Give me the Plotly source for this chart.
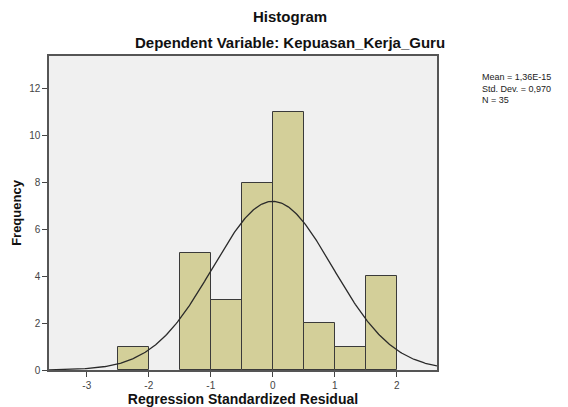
import numpy as np
import plotly.graph_objects as go

bin_starts = [-2.5, -1.5, -1.0, -0.5, 0.0, 0.5, 1.0, 1.5]
counts = [1, 5, 3, 8, 11, 2, 1, 4]
bin_width = 0.5
mean_val = 1.36e-15
std_val = 0.970
n_val = 35

x_ticks = [-3, -2, -1, 0, 1, 2]
y_ticks = [0, 2, 4, 6, 8, 10, 12]
stat_lines = ["Mean = 1,36E-15", "Std. Dev. = 0,970", f"N = {n_val}"]

centers = [s + bin_width / 2 for s in bin_starts]

xs = np.linspace(-3.61, 2.65, 400)
ys = n_val * bin_width / (std_val * np.sqrt(2 * np.pi)) * np.exp(-0.5 * ((xs - mean_val) / std_val) ** 2)

fig = go.Figure()
fig.add_trace(go.Bar(
    x=centers, y=counts, width=bin_width,
    marker=dict(color="#D3CF99", line=dict(color="#3a3a3a", width=1)),
    hoverinfo="skip",
))
fig.add_trace(go.Scatter(
    x=xs, y=ys, mode="lines", line=dict(color="#2a2a2a", width=1.3),
    hoverinfo="skip",
))

font = "Liberation Sans, Arial, sans-serif"
annotations = [
    dict(text="<b>Histogram</b>", x=0.621, y=1, yanchor="bottom", yshift=29,
         xref="paper", yref="paper", showarrow=False, font=dict(size=15, color="#111")),
    dict(text="<b>Dependent Variable: Kepuasan_Kerja_Guru</b>", x=0.621, y=1, yanchor="bottom", yshift=3,
         xref="paper", yref="paper", showarrow=False, font=dict(size=15, color="#111")),
    dict(text="<br>".join(stat_lines), xref="paper", yref="paper", x=1.11, y=1, xanchor="left",
         yanchor="top", align="left", yshift=-14, showarrow=False,
         font=dict(size=9, color="#222")),
]

fig.update_layout(
    width=568, height=407,
    margin=dict(l=49, r=131, t=56, b=37),
    paper_bgcolor="white", plot_bgcolor="#F0F0F0",
    showlegend=False, bargap=0,
    font=dict(family=font, color="#222"),
    xaxis=dict(
        range=[-3.61, 2.65], tickvals=x_ticks, ticktext=[str(v) for v in x_ticks],
        ticks="outside", ticklen=5, tickcolor="#444", showgrid=False, zeroline=False,
        showline=True, linecolor="#555", linewidth=1.5, mirror=True, automargin=False,
        tickfont=dict(size=10, color="#444"),
        title=dict(text="<b>Regression Standardized Residual</b>", font=dict(size=14, color="#111"), standoff=6),
    ),
    yaxis=dict(
        range=[0, 13.4], tickvals=y_ticks,
        ticks="outside", ticklen=5, tickcolor="#444", showgrid=False, zeroline=False,
        showline=True, linecolor="#555", linewidth=1.5, mirror=True, automargin=False,
        tickfont=dict(size=10, color="#444"),
        title=dict(text="<b>Frequency</b>", font=dict(size=13, color="#111"), standoff=5),
    ),
    annotations=annotations,
)

fig.write_html("out.html", post_script="document.body.style.margin='0px';",
               config={"displayModeBar": False})
